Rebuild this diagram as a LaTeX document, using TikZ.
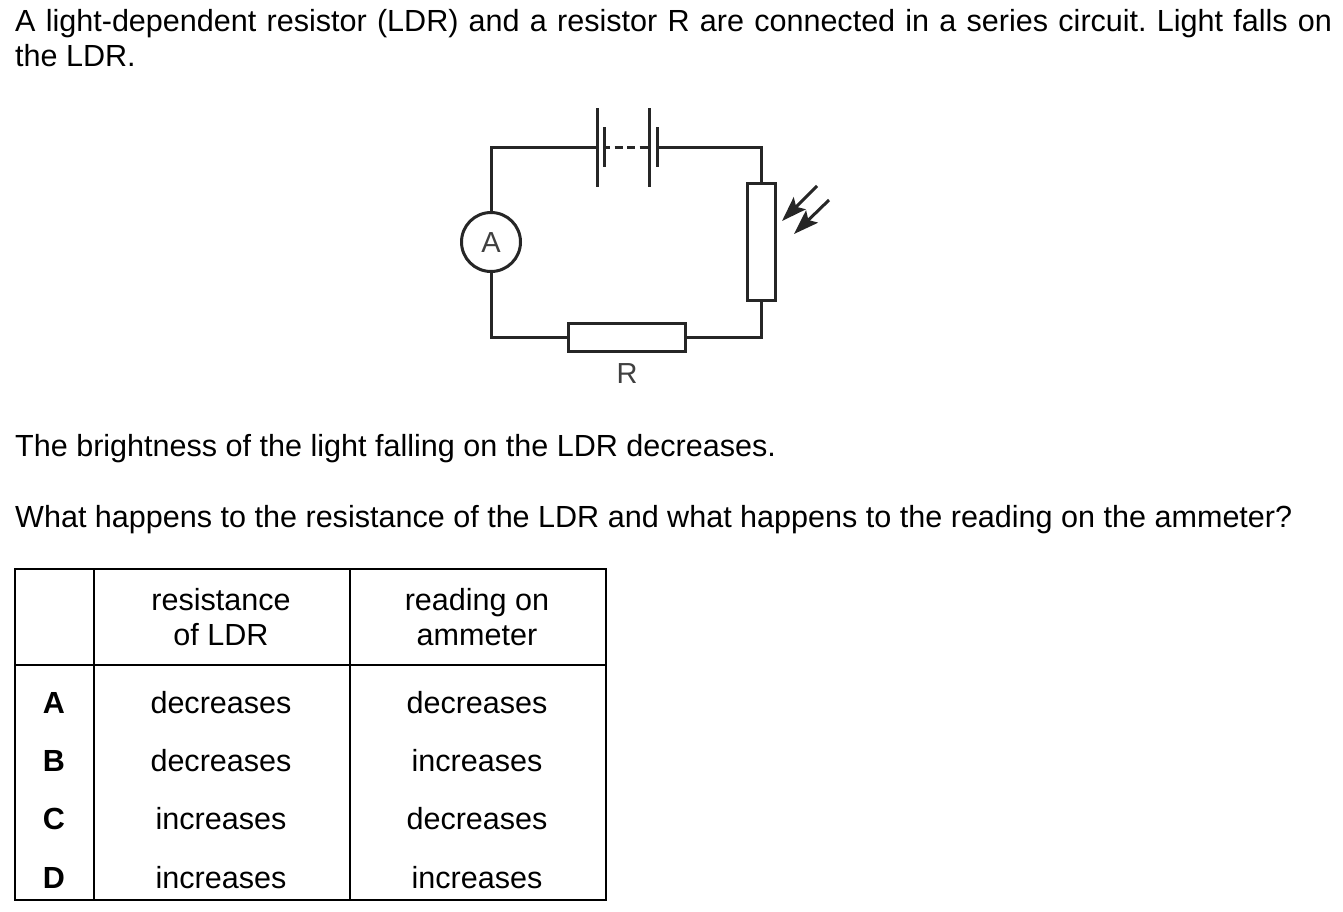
\documentclass[tikz,border=0pt]{standalone}
\usepackage{fontspec}
\setmainfont{Liberation Sans}
\usetikzlibrary{arrows.meta}
\frenchspacing
\tikzset{
  x=1pt,y=-1pt,
  txt/.style={anchor=base,inner sep=0pt,font=\fontsize{30.55}{35}\selectfont},
  ltxt/.style={txt,anchor=base west},
  keyl/.style={txt,font=\fontsize{30.55}{35}\selectfont\bfseries},
  wire/.style={line width=3pt,draw=black!85},
  comp/.style={wire,fill=white,rectangle,inner sep=0pt,outer sep=0pt},
  lab/.style={anchor=base,inner sep=0pt,text=black!75,font=\fontsize{29}{35}\selectfont},
  rule/.style={line width=2pt,draw=black},
  ray/.style={line width=3pt,draw=black!85,-{Stealth[length=25pt,width=17pt,inset=5pt]}}
}
\begin{document}
\begin{tikzpicture}
\useasboundingbox (0,0) rectangle (1343,911);
\fill[white] (0,0) rectangle (1343,911);
% texts
\node[ltxt] (l1) at (15,31) {\makebox[1317pt][s]{A light-dependent resistor (LDR) and a resistor R are connected in a series circuit. Light falls on}};
\node[ltxt] (l2) at (15,66) {the LDR.};
\node[ltxt] (l3) at (15,456) {The brightness of the light falling on the LDR decreases.};
\node[ltxt] (l4) at (15,527) {What happens to the resistance of the LDR and what happens to the reading on the ammeter?};
% circuit
\node[comp,circle,minimum size=59pt] (amm) at (491,242) {};
\node[lab] (ammt) at (491,252) {A};
\node[comp,minimum width=28pt,minimum height=117pt] (ldr) at (761.5,242) {};
\node[comp,minimum width=117pt,minimum height=28pt] (res) at (627,337.5) {};
\node[lab] (rt) at (627,383) {R};
\coordinate (p1t) at (597,108); \coordinate (p1b) at (597,187);
\coordinate (s1t) at (604,127); \coordinate (s1b) at (604,167);
\coordinate (p2t) at (649,108); \coordinate (p2b) at (649,187);
\coordinate (s2t) at (657,127); \coordinate (s2b) at (657,167);
\coordinate (p1m) at (597,147); \coordinate (s1m) at (604,147);
\coordinate (p2m) at (649,147); \coordinate (s2m) at (657,147);
\coordinate (tl) at (491,147); \coordinate (tr) at (761.5,147);
\coordinate (bl) at (491,337.5); \coordinate (br) at (761.5,337.5);
\draw[wire,line join=miter] (amm.north) -- (tl) -- (p1m);
\draw[wire,line join=miter] (s2m) -- (tr) -- (ldr.north);
\draw[wire,line join=miter] (ldr.south) -- (br) -- (res.east);
\draw[wire,line join=miter] (res.west) -- (bl) -- (amm.south);
\draw[wire] (p1t) -- (p1b);
\draw[wire] (s1t) -- (s1b);
\draw[wire] (p2t) -- (p2b);
\draw[wire] (s2t) -- (s2b);
\draw[wire,dash pattern=on 8pt off 4.5pt,dash phase=2pt] (s1m) -- (p2m);
\coordinate (a1s) at (817,186); \coordinate (a1e) at (782,221);
\coordinate (a2s) at (829,200); \coordinate (a2e) at (794,234);
\draw[ray] (a1s) -- (a1e);
\draw[ray] (a2s) -- (a2e);
% table
\draw[rule] (15,569) rectangle (606,900);
\draw[rule] (94,569) -- (94,900);
\draw[rule] (350,569) -- (350,900);
\draw[rule] (15,665) -- (606,665);
\node[txt] (h1a) at (221,610) {resistance};
\node[txt] (h1b) at (221,645) {of LDR};
\node[txt] (h2a) at (477,610) {reading on};
\node[txt] (h2b) at (477,645) {ammeter};
\node[keyl] (ka) at (54,713) {A};
\node[txt] (a1) at (221,713) {decreases};
\node[txt] (a2) at (477,713) {decreases};
\node[keyl] (kb) at (54,771) {B};
\node[txt] (b1) at (221,771) {decreases};
\node[txt] (b2) at (477,771) {increases};
\node[keyl] (kc) at (54,829) {C};
\node[txt] (c1) at (221,829) {increases};
\node[txt] (c2) at (477,829) {decreases};
\node[keyl] (kd) at (54,888) {D};
\node[txt] (d1) at (221,888) {increases};
\node[txt] (d2) at (477,888) {increases};
\end{tikzpicture}
\end{document}
